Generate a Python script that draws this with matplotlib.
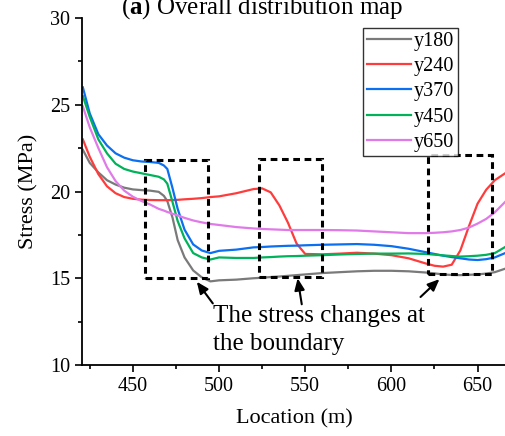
import matplotlib
matplotlib.use("Agg")
import matplotlib.pyplot as plt
from matplotlib.patches import Rectangle
from matplotlib.ticker import MultipleLocator

# location grid (m) and stress (MPa)
location = [421, 425, 430, 435, 440, 445, 450, 455, 460, 465, 468, 470, 473, 476,
            480, 485, 490, 495, 500, 510, 520, 525, 530, 535, 540, 545, 550, 560,
            570, 580, 590, 600, 610, 620, 625, 630, 635, 640, 645, 650, 655, 660, 666]

y180 = [22.4, 21.65, 21.1, 20.65, 20.4, 20.22, 20.12, 20.08, 20.05, 19.98, 19.75, 19.45,
        18.5, 17.2, 16.2, 15.45, 15.05, 14.82, 14.88, 14.92, 15.0, 15.03, 15.07, 15.1,
        15.14, 15.18, 15.22, 15.3, 15.35, 15.4, 15.43, 15.43, 15.4, 15.33, 15.28, 15.22,
        15.19, 15.18, 15.2, 15.22, 15.27, 15.35, 15.55]
y240 = [23.0, 22.0, 21.0, 20.3, 19.9, 19.68, 19.58, 19.53, 19.51, 19.5, 19.5, 19.5,
        19.51, 19.52, 19.55, 19.58, 19.62, 19.68, 19.72, 19.9, 20.14, 20.18, 19.95, 19.2,
        18.2, 17.0, 16.4, 16.38, 16.42, 16.47, 16.42, 16.33, 16.15, 15.85, 15.72, 15.67,
        15.78, 16.6, 18.0, 19.3, 20.1, 20.65, 21.05]
y370 = [26.0, 24.5, 23.3, 22.65, 22.2, 21.95, 21.8, 21.73, 21.7, 21.65, 21.5, 21.3,
        20.2, 19.0, 17.8, 16.95, 16.6, 16.45, 16.58, 16.65, 16.78, 16.8, 16.83, 16.85,
        16.87, 16.88, 16.9, 16.93, 16.95, 16.97, 16.93, 16.85, 16.7, 16.5, 16.4, 16.3,
        16.22, 16.15, 16.08, 16.05, 16.1, 16.2, 16.45]
y450 = [25.5, 24.3, 23.0, 22.2, 21.6, 21.3, 21.15, 21.05, 20.95, 20.85, 20.7, 20.45,
        19.4, 18.3, 17.3, 16.45, 16.2, 16.08, 16.2, 16.17, 16.17, 16.2, 16.22, 16.25,
        16.27, 16.28, 16.3, 16.33, 16.37, 16.4, 16.42, 16.42, 16.43, 16.4, 16.36, 16.32,
        16.28, 16.25, 16.27, 16.3, 16.35, 16.45, 16.8]
y650 = [24.9, 23.7, 22.5, 21.4, 20.6, 20.05, 19.7, 19.45, 19.25, 19.0, 18.9, 18.82,
        18.72, 18.62, 18.48, 18.33, 18.22, 18.13, 18.07, 17.95, 17.87, 17.84, 17.82, 17.8,
        17.78, 17.78, 17.78, 17.78, 17.77, 17.75, 17.7, 17.65, 17.6, 17.6, 17.62, 17.65,
        17.7, 17.78, 17.92, 18.15, 18.42, 18.8, 19.4]

series = [("y180", y180, "#7a7a7a"), ("y240", y240, "#ff3c3c"),
          ("y370", y370, "#0a6ff0"), ("y450", y450, "#00b25a"),
          ("y650", y650, "#e07ae8")]

# dashed boxes: (x0, y0, width, height) in data units
boxes = [(457, 15.0, 36.5, 6.8), (523, 15.05, 36.5, 6.82), (621.5, 15.25, 37, 6.85)]
# arrows: (head, tail)
arrows = [((487.1, 14.8), (496.4, 13.55)), ((545.6, 15.0), (548.0, 13.5)),
          ((627.9, 14.95), (616.9, 13.92))]

plt.rcParams.update({
    "font.family": "Liberation Serif", "mathtext.fontset": "custom",
    "mathtext.rm": "Liberation Serif", "mathtext.bf": "Liberation Serif:bold",
})

fig = plt.figure(figsize=(5.06, 4.36), dpi=100)
ax = fig.add_axes([82 / 506, 71 / 436, 424 / 506, 347 / 436])

for name, vals, c in series:
    ax.plot(location, vals, color=c, lw=1.6, label=name)

for x0, y0, w, h in boxes:
    ax.add_patch(Rectangle((x0, y0), w, h, fill=False, ec="black", lw=2.2,
                           ls=(0, (2.2, 1.5)), zorder=4))

for head, tail in arrows:
    ax.annotate("", xy=head, xytext=tail,
                arrowprops=dict(arrowstyle="-|>,head_length=0.7,head_width=0.3",
                                color="black", lw=1.5, shrinkA=0, shrinkB=0))

ax.text(496.4, 13.45, "The stress changes at\nthe boundary", fontsize=18,
        ha="left", va="top", linespacing=1.35)

ax.set_xlim(420.5, 666.5)
ax.set_ylim(10, 30)
ax.xaxis.set_major_locator(MultipleLocator(50))
ax.xaxis.set_minor_locator(MultipleLocator(25))
ax.yaxis.set_major_locator(MultipleLocator(5))
ax.yaxis.set_minor_locator(MultipleLocator(2.5))
ax.tick_params(which="both", direction="out", width=1.2, labelsize=14.5)
ax.tick_params(which="major", length=5)
ax.tick_params(which="minor", length=3)
for sp in ("top", "right"):
    ax.spines[sp].set_visible(False)
for sp in ("left", "bottom"):
    ax.spines[sp].set_linewidth(1.3)

ax.set_xlabel("Location (m)", fontsize=16, labelpad=10)
ax.set_ylabel("Stress (MPa)", fontsize=16, labelpad=8)

leg = ax.legend(loc="upper left", bbox_to_anchor=(0.663, 0.971), borderaxespad=0,
                fontsize=14.5, frameon=True, fancybox=False, handlelength=2.2,
                handletextpad=0.1, labelspacing=0.3, borderpad=0.2)
leg.get_frame().set_edgecolor("black")
leg.get_frame().set_linewidth(1.0)
leg.set_zorder(5)

# title is partly clipped at the top edge, as in the reference
fig.text(262 / 506, 1 - 14 / 436, r"($\mathbf{a}$) Overall distribution map",
         fontsize=18, ha="center", va="baseline")

fig.savefig("out.png", dpi=100)
